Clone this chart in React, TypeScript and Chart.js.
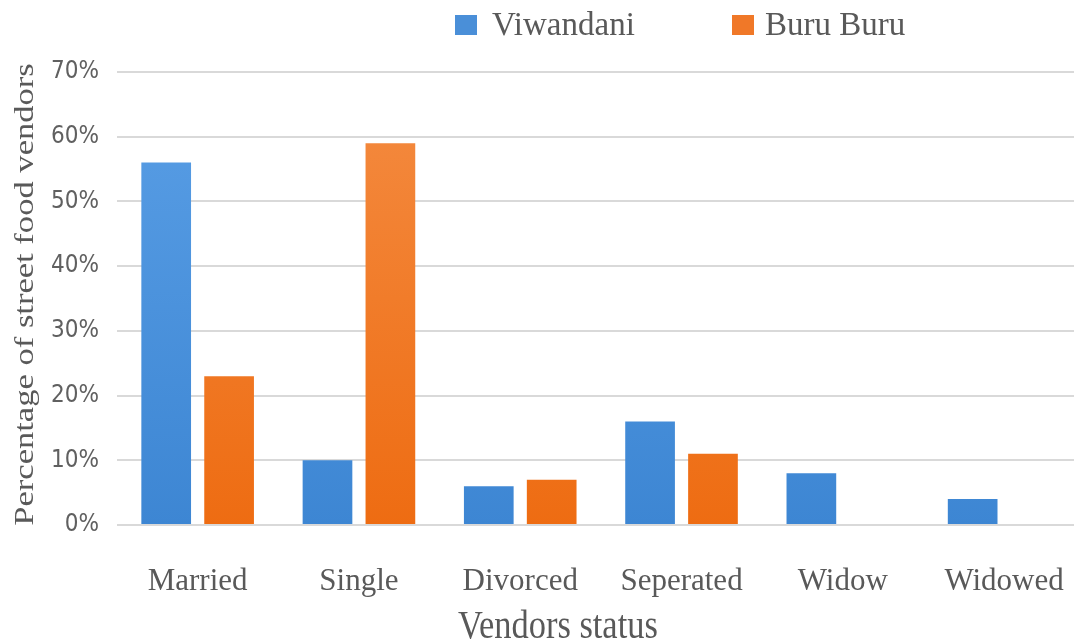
import React, { useEffect, useRef } from "react";
import { Chart, registerables } from "chart.js";

Chart.register(...registerables);

const categories = ["Married", "Single", "Divorced", "Seperated", "Widow", "Widowed"];
const viwandani = [56, 10, 6, 16, 8, 4];
const buruBuru = [23, 59, 7, 11, 0, 0];
const seriesNames = ["Viwandani", "Buru Buru"];
const yTicks = [0, 10, 20, 30, 40, 50, 60, 70];
const xTitle = "Vendors status";
const yTitle = "Percentage of street food vendors";

const BLUE_TOP = "#5a9fe6";
const BLUE_BOTTOM = "#3d86d3";
const ORANGE_TOP = "#f48c42";
const ORANGE_BOTTOM = "#ee6c12";
const TEXT = "#595959";
const SERIF = "'Liberation Serif', serif";

function barGradient(top: string, bottom: string) {
  return (ctx: any) => {
    const { chart } = ctx;
    const area = chart.chartArea;
    if (!area) return bottom;
    const g = chart.ctx.createLinearGradient(0, area.top, 0, area.bottom);
    g.addColorStop(0, top);
    g.addColorStop(1, bottom);
    return g;
  };
}

// Axis titles in a tall, condensed serif face.
const axisTitlesPlugin = {
  id: "axisTitles",
  afterDraw(chart: any) {
    const { ctx, chartArea } = chart;
    ctx.save();
    ctx.fillStyle = TEXT;
    ctx.textAlign = "center";
    ctx.textBaseline = "alphabetic";

    // category axis title
    ctx.save();
    ctx.translate((chartArea.left + chartArea.right) / 2 - 43, chart.height - 6);
    ctx.scale(0.84, 1);
    ctx.font = `41px ${SERIF}`;
    ctx.fillText(xTitle, 0, 0);
    ctx.restore();

    // value axis title, rotated
    ctx.save();
    ctx.translate(33, (chartArea.top + chartArea.bottom) / 2 - 4);
    ctx.rotate(-Math.PI / 2);
    ctx.scale(1.28, 1);
    ctx.font = `27px ${SERIF}`;
    ctx.fillText(yTitle, 0, 0);
    ctx.restore();

    ctx.restore();
  },
};

export default function App() {
  const canvasRef = useRef<HTMLCanvasElement | null>(null);

  useEffect(() => {
    const canvas = canvasRef.current;
    if (!canvas) return;
    const chart = new Chart(canvas, {
      type: "bar",
      data: {
        labels: categories,
        datasets: [
          {
            label: seriesNames[0],
            data: viwandani,
            backgroundColor: barGradient(BLUE_TOP, BLUE_BOTTOM),
            categoryPercentage: 0.78,
            barPercentage: 0.79,
          },
          {
            label: seriesNames[1],
            data: buruBuru,
            backgroundColor: barGradient(ORANGE_TOP, ORANGE_BOTTOM),
            categoryPercentage: 0.78,
            barPercentage: 0.79,
          },
        ],
      },
      plugins: [axisTitlesPlugin],
      options: {
        animation: false,
        responsive: false,
        layout: { padding: { top: 72, right: 3, left: 0, bottom: 0 } },
        plugins: {
          legend: { display: false },
          tooltip: { enabled: false },
        },
        scales: {
          x: {
            grid: { display: false },
            border: { display: false },
            ticks: {
              color: TEXT,
              padding: 30,
              font: { family: SERIF, size: 31 },
            },
            afterFit: (s: any) => {
              s.height = 119;
            },
          },
          y: {
            min: 0,
            max: 70,
            afterBuildTicks: (s: any) => {
              s.ticks = yTicks.map((v) => ({ value: v }));
            },
            grid: { color: "#d9d9d9", lineWidth: 2, drawTicks: false },
            border: { display: false },
            ticks: {
              color: "#606060",
              padding: 18,
              font: { family: "'Liberation Sans Narrow', 'DejaVu Sans Condensed', sans-serif", size: 24 },
              callback: (v: any) => v + "%",
            },
            afterFit: (s: any) => {
              s.width = 117;
            },
          },
        },
      },
    });
    return () => chart.destroy();
  }, []);

  const legendItem = (name: string, color: string, boxLeft: number, textLeft: number) => (
    <div key={name}>
      <div
        style={{
          position: "absolute",
          left: boxLeft,
          top: 15,
          width: 22,
          height: 20,
          background: color,
        }}
      />
      <div
        style={{
          position: "absolute",
          left: textLeft,
          top: 2,
          fontFamily: SERIF,
          fontSize: 33,
          lineHeight: "44px",
          color: TEXT,
          whiteSpace: "nowrap",
        }}
      >
        {name}
      </div>
    </div>
  );

  return (
    <div
      style={{
        position: "absolute",
        left: 0,
        top: 0,
        width: 1074,
        height: 644,
        overflow: "hidden",
        background: "#ffffff",
      }}
    >
      <canvas ref={canvasRef} width={1094} height={644} style={{ display: "block" }} />
      {legendItem(seriesNames[0], "#4a8fd8", 455, 492)}
      {legendItem(seriesNames[1], "#f07828", 732, 765)}
    </div>
  );
}
